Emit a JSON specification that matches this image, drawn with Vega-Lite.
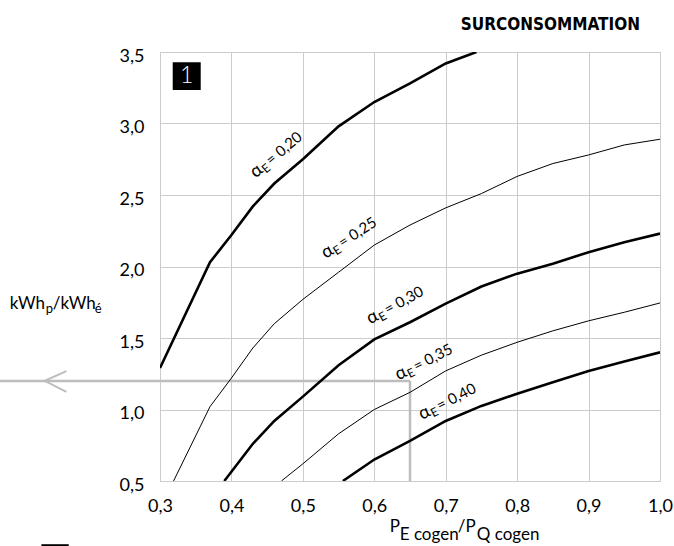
{
  "$schema": "https://vega.github.io/schema/vega-lite/v6.json",
  "width": 500,
  "height": 429,
  "autosize": {"type": "none"},
  "padding": {"left": 160, "top": 52, "right": 14, "bottom": 65},
  "background": "white",
  "data": {"values": [{}]},
  "title": {
    "text": "SURCONSOMMATION",
    "anchor": "end",
    "frame": "group",
    "dx": -20,
    "dy": 4,
    "offset": 4,
    "baseline": "alphabetic",
    "font": "DejaVu Sans Condensed, Liberation Sans Narrow, DejaVu Sans",
    "fontSize": 17,
    "fontWeight": "bold",
    "color": "#000000"
  },
  "config": {
    "view": {"stroke": "#cccccc", "strokeWidth": 1},
    "font": "Lato",
    "text": {"font": "Lato", "color": "#000000"},
    "axis": {
      "grid": true, "gridColor": "#cccccc", "gridWidth": 1,
      "domainColor": "#cccccc", "ticks": false,
      "labelFont": "Lato", "labelFontSize": 18, "labelColor": "#000000",
      "labelFlush": false,
      "labelExpr": "replace(format(datum.value, '.1f'), '.', ',')"
    },
    "axisX": {"labelPadding": 16},
    "axisY": {"labelPadding": 16, "labelOffset": 4}
  },
  "datasets": {
    "curves": [
      {"a": "0,20", "x": 0.30, "y": 1.29},
      {"a": "0,20", "x": 0.37, "y": 2.03},
      {"a": "0,20", "x": 0.40, "y": 2.22},
      {"a": "0,20", "x": 0.43, "y": 2.42},
      {"a": "0,20", "x": 0.46, "y": 2.58},
      {"a": "0,20", "x": 0.50, "y": 2.75},
      {"a": "0,20", "x": 0.55, "y": 2.98},
      {"a": "0,20", "x": 0.60, "y": 3.15},
      {"a": "0,20", "x": 0.65, "y": 3.28},
      {"a": "0,20", "x": 0.70, "y": 3.42},
      {"a": "0,20", "x": 0.743, "y": 3.50},
      {"a": "0,25", "x": 0.319, "y": 0.50},
      {"a": "0,25", "x": 0.37, "y": 1.02},
      {"a": "0,25", "x": 0.40, "y": 1.22},
      {"a": "0,25", "x": 0.43, "y": 1.43},
      {"a": "0,25", "x": 0.46, "y": 1.60},
      {"a": "0,25", "x": 0.50, "y": 1.77},
      {"a": "0,25", "x": 0.55, "y": 1.96},
      {"a": "0,25", "x": 0.60, "y": 2.15},
      {"a": "0,25", "x": 0.65, "y": 2.29},
      {"a": "0,25", "x": 0.70, "y": 2.41},
      {"a": "0,25", "x": 0.75, "y": 2.51},
      {"a": "0,25", "x": 0.80, "y": 2.63},
      {"a": "0,25", "x": 0.85, "y": 2.72},
      {"a": "0,25", "x": 0.90, "y": 2.78},
      {"a": "0,25", "x": 0.95, "y": 2.85},
      {"a": "0,25", "x": 1.00, "y": 2.89},
      {"a": "0,30", "x": 0.39, "y": 0.50},
      {"a": "0,30", "x": 0.43, "y": 0.76},
      {"a": "0,30", "x": 0.46, "y": 0.92},
      {"a": "0,30", "x": 0.50, "y": 1.09},
      {"a": "0,30", "x": 0.55, "y": 1.31},
      {"a": "0,30", "x": 0.60, "y": 1.49},
      {"a": "0,30", "x": 0.65, "y": 1.61},
      {"a": "0,30", "x": 0.70, "y": 1.74},
      {"a": "0,30", "x": 0.75, "y": 1.86},
      {"a": "0,30", "x": 0.80, "y": 1.95},
      {"a": "0,30", "x": 0.85, "y": 2.02},
      {"a": "0,30", "x": 0.90, "y": 2.10},
      {"a": "0,30", "x": 0.95, "y": 2.17},
      {"a": "0,30", "x": 1.00, "y": 2.23},
      {"a": "0,35", "x": 0.47, "y": 0.50},
      {"a": "0,35", "x": 0.50, "y": 0.62},
      {"a": "0,35", "x": 0.55, "y": 0.83},
      {"a": "0,35", "x": 0.60, "y": 1.00},
      {"a": "0,35", "x": 0.65, "y": 1.12},
      {"a": "0,35", "x": 0.70, "y": 1.27},
      {"a": "0,35", "x": 0.75, "y": 1.38},
      {"a": "0,35", "x": 0.80, "y": 1.47},
      {"a": "0,35", "x": 0.85, "y": 1.55},
      {"a": "0,35", "x": 0.90, "y": 1.62},
      {"a": "0,35", "x": 0.95, "y": 1.68},
      {"a": "0,35", "x": 1.00, "y": 1.745},
      {"a": "0,40", "x": 0.556, "y": 0.50},
      {"a": "0,40", "x": 0.60, "y": 0.65},
      {"a": "0,40", "x": 0.65, "y": 0.78},
      {"a": "0,40", "x": 0.70, "y": 0.92},
      {"a": "0,40", "x": 0.75, "y": 1.025},
      {"a": "0,40", "x": 0.80, "y": 1.11},
      {"a": "0,40", "x": 0.85, "y": 1.19},
      {"a": "0,40", "x": 0.90, "y": 1.27},
      {"a": "0,40", "x": 0.95, "y": 1.335},
      {"a": "0,40", "x": 1.00, "y": 1.40}
    ],
    "labels": [
      {"a": "0,20", "t": "= 0,20", "x": 0.434, "y": 2.615},
      {"a": "0,25", "t": "= 0,25", "x": 0.532, "y": 2.053},
      {"a": "0,30", "t": "= 0,30", "x": 0.5945, "y": 1.594},
      {"a": "0,35", "t": "= 0,35", "x": 0.634, "y": 1.202},
      {"a": "0,40", "t": "= 0,40", "x": 0.6668, "y": 0.927}
    ],
    "chevron": [
      {"i": 1, "x": 0.169, "y": 1.268},
      {"i": 2, "x": 0.1386, "y": 1.2},
      {"i": 3, "x": 0.169, "y": 1.123}
    ]
  },
  "layer": [
    {
      "data": {"name": "curves"},
      "mark": {"type": "line", "color": "#000000", "clip": true, "opacity": 0},
      "encoding": {
        "x": {
          "field": "x", "type": "quantitative", "title": null,
          "scale": {"domain": [0.3, 1.0], "nice": false, "zero": false},
          "axis": {"values": [0.3, 0.4, 0.5, 0.6, 0.7, 0.8, 0.9, 1.0]}
        },
        "y": {
          "field": "y", "type": "quantitative", "title": null,
          "scale": {"domain": [0.5, 3.5], "nice": false, "zero": false},
          "axis": {"values": [0.5, 1.0, 1.5, 2.0, 2.5, 3.0, 3.5]}
        },
        "detail": {"field": "a"}
      }
    },
    {
      "mark": {"type": "rule", "color": "#bdbdbd", "strokeWidth": 2.5},
      "encoding": {
        "x": {"datum": 0.0756, "type": "quantitative", "title": null},
        "x2": {"datum": 0.65},
        "y": {"datum": 1.2, "type": "quantitative", "title": null}
      }
    },
    {
      "mark": {"type": "rule", "color": "#bdbdbd", "strokeWidth": 2.5},
      "encoding": {
        "x": {"datum": 0.65, "type": "quantitative", "title": null},
        "y": {"datum": 0.5, "type": "quantitative", "title": null},
        "y2": {"datum": 1.2}
      }
    },
    {
      "data": {"name": "chevron"},
      "mark": {"type": "line", "color": "#bdbdbd", "strokeWidth": 2},
      "encoding": {
        "x": {"field": "x", "type": "quantitative", "title": null},
        "y": {"field": "y", "type": "quantitative", "title": null},
        "order": {"field": "i"}
      }
    },
    {
      "data": {"name": "curves"},
      "mark": {"type": "line", "color": "#000000", "clip": true},
      "encoding": {
        "x": {"field": "x", "type": "quantitative", "title": null},
        "y": {"field": "y", "type": "quantitative", "title": null},
        "detail": {"field": "a"},
        "strokeWidth": {
          "field": "a", "type": "nominal",
          "scale": {"type": "ordinal", "domain": ["0,20", "0,25", "0,30", "0,35", "0,40"], "range": [2.6, 1, 2.6, 1, 2.6]},
          "legend": null
        }
      }
    },
    {
      "mark": {"type": "rule", "color": "#000000", "strokeWidth": 4},
      "encoding": {
        "x": {"datum": 0.134, "type": "quantitative", "title": null},
        "x2": {"datum": 0.1722},
        "y": {"datum": 0.044, "type": "quantitative", "title": null}
      }
    },
    {
      "mark": {"type": "rect", "color": "#000000"},
      "encoding": {
        "x": {"datum": 0.3178, "type": "quantitative", "title": null},
        "x2": {"datum": 0.357},
        "y": {"datum": 3.234, "type": "quantitative", "title": null},
        "y2": {"datum": 3.428}
      }
    },
    {
      "mark": {"type": "text", "text": "1", "color": "#ffffff", "fontSize": 23, "font": "Lato", "fontWeight": 300, "align": "center", "baseline": "middle"},
      "encoding": {
        "x": {"datum": 0.3374, "type": "quantitative", "title": null},
        "y": {"datum": 3.331, "type": "quantitative", "title": null}
      }
    },
    {
      "encoding": {
        "x": {"datum": 0.0896, "type": "quantitative", "title": null},
        "y": {"datum": 1.706, "type": "quantitative", "title": null}
      },
      "layer": [
        {"mark": {"type": "text", "text": "kWh", "align": "left", "baseline": "alphabetic", "fontSize": 17}},
        {"mark": {"type": "text", "text": "p", "align": "left", "baseline": "alphabetic", "fontSize": 13, "dx": 36, "dy": 4}},
        {"mark": {"type": "text", "text": "/kWh", "align": "left", "baseline": "alphabetic", "fontSize": 17, "dx": 43}},
        {"mark": {"type": "text", "text": "é", "align": "left", "baseline": "alphabetic", "fontSize": 13, "dx": 85, "dy": 4}}
      ]
    },
    {
      "encoding": {
        "x": {"datum": 0.6216, "type": "quantitative", "title": null},
        "y": {"datum": 0.1452, "type": "quantitative", "title": null}
      },
      "layer": [
        {"mark": {"type": "text", "text": "P", "align": "left", "baseline": "alphabetic", "fontSize": 17}},
        {"mark": {"type": "text", "text": "E cogen", "align": "left", "baseline": "alphabetic", "fontSize": 17, "dx": 10, "dy": 8}},
        {"mark": {"type": "text", "text": "/P", "align": "left", "baseline": "alphabetic", "fontSize": 17, "dx": 68}},
        {"mark": {"type": "text", "text": "Q cogen", "align": "left", "baseline": "alphabetic", "fontSize": 17, "dx": 87, "dy": 8}}
      ]
    },
    {
      "data": {"name": "labels"},
      "transform": [{"filter": "datum.a === '0,20'"}],
      "encoding": {
        "x": {"field": "x", "type": "quantitative", "title": null},
        "y": {"field": "y", "type": "quantitative", "title": null}
      },
      "layer": [
        {"mark": {"type": "text", "text": "α", "angle": 320, "align": "left", "baseline": "alphabetic", "fontSize": 18}},
        {"mark": {"type": "text", "text": "E", "angle": 320, "align": "left", "baseline": "alphabetic", "fontSize": 12, "dx": 11, "dy": 3}},
        {"mark": {"type": "text", "angle": 320, "align": "left", "baseline": "alphabetic", "fontSize": 15, "dx": 20}, "encoding": {"text": {"field": "t"}}}
      ]
    },
    {
      "data": {"name": "labels"},
      "transform": [{"filter": "datum.a === '0,25'"}],
      "encoding": {
        "x": {"field": "x", "type": "quantitative", "title": null},
        "y": {"field": "y", "type": "quantitative", "title": null}
      },
      "layer": [
        {"mark": {"type": "text", "text": "α", "angle": 327, "align": "left", "baseline": "alphabetic", "fontSize": 18}},
        {"mark": {"type": "text", "text": "E", "angle": 327, "align": "left", "baseline": "alphabetic", "fontSize": 12, "dx": 11, "dy": 3}},
        {"mark": {"type": "text", "angle": 327, "align": "left", "baseline": "alphabetic", "fontSize": 15, "dx": 20}, "encoding": {"text": {"field": "t"}}}
      ]
    },
    {
      "data": {"name": "labels"},
      "transform": [{"filter": "datum.a === '0,30'"}],
      "encoding": {
        "x": {"field": "x", "type": "quantitative", "title": null},
        "y": {"field": "y", "type": "quantitative", "title": null}
      },
      "layer": [
        {"mark": {"type": "text", "text": "α", "angle": 331, "align": "left", "baseline": "alphabetic", "fontSize": 18}},
        {"mark": {"type": "text", "text": "E", "angle": 331, "align": "left", "baseline": "alphabetic", "fontSize": 12, "dx": 11, "dy": 3}},
        {"mark": {"type": "text", "angle": 331, "align": "left", "baseline": "alphabetic", "fontSize": 15, "dx": 20}, "encoding": {"text": {"field": "t"}}}
      ]
    },
    {
      "data": {"name": "labels"},
      "transform": [{"filter": "datum.a === '0,35'"}],
      "encoding": {
        "x": {"field": "x", "type": "quantitative", "title": null},
        "y": {"field": "y", "type": "quantitative", "title": null}
      },
      "layer": [
        {"mark": {"type": "text", "text": "α", "angle": 333, "align": "left", "baseline": "alphabetic", "fontSize": 18}},
        {"mark": {"type": "text", "text": "E", "angle": 333, "align": "left", "baseline": "alphabetic", "fontSize": 12, "dx": 11, "dy": 3}},
        {"mark": {"type": "text", "angle": 333, "align": "left", "baseline": "alphabetic", "fontSize": 15, "dx": 20}, "encoding": {"text": {"field": "t"}}}
      ]
    },
    {
      "data": {"name": "labels"},
      "transform": [{"filter": "datum.a === '0,40'"}],
      "encoding": {
        "x": {"field": "x", "type": "quantitative", "title": null},
        "y": {"field": "y", "type": "quantitative", "title": null}
      },
      "layer": [
        {"mark": {"type": "text", "text": "α", "angle": 333, "align": "left", "baseline": "alphabetic", "fontSize": 18}},
        {"mark": {"type": "text", "text": "E", "angle": 333, "align": "left", "baseline": "alphabetic", "fontSize": 12, "dx": 11, "dy": 3}},
        {"mark": {"type": "text", "angle": 333, "align": "left", "baseline": "alphabetic", "fontSize": 15, "dx": 20}, "encoding": {"text": {"field": "t"}}}
      ]
    }
  ]
}
